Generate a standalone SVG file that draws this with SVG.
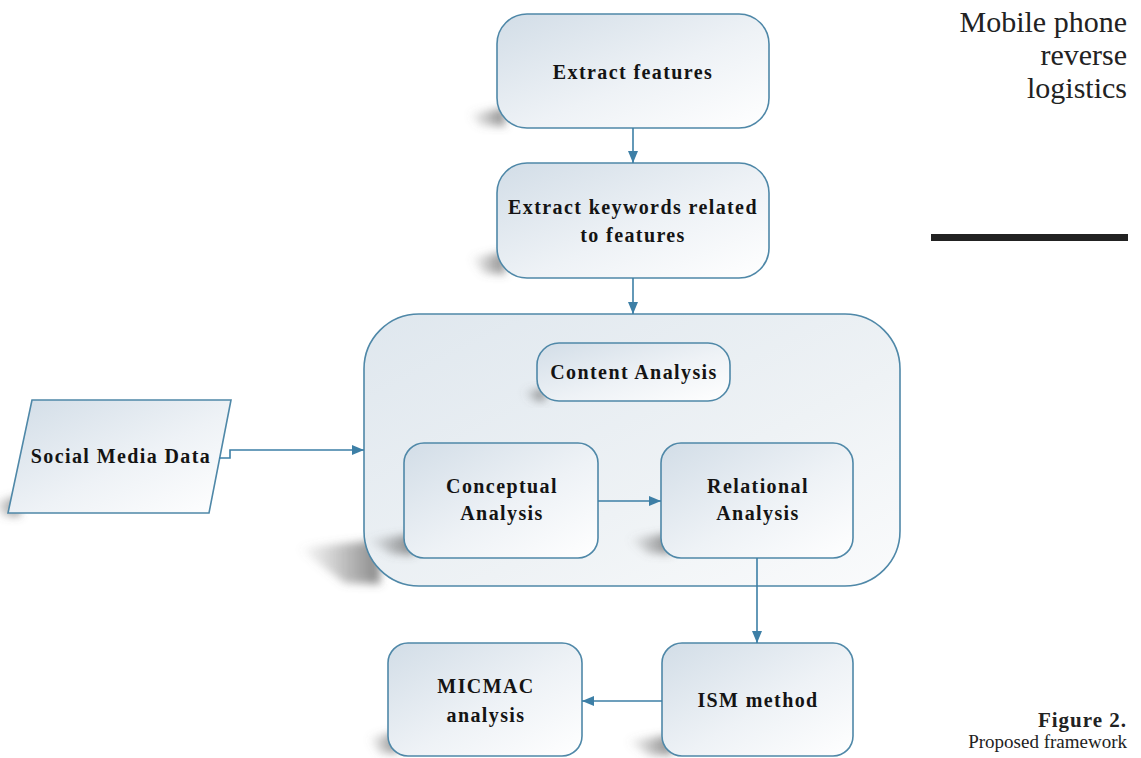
<svg xmlns="http://www.w3.org/2000/svg" width="1141" height="758" viewBox="0 0 1141 758">
<style>
.box{fill:url(#g);stroke:#4f88a8;stroke-width:1.6}
.big{fill:url(#gb);stroke:#4f88a8;stroke-width:1.6}
.lbl{font-family:"Liberation Serif","Times New Roman",serif;font-weight:bold;font-size:20px;fill:#141414;text-anchor:middle;letter-spacing:1.4px}
.side{font-family:"Liberation Serif","Times New Roman",serif;fill:#222;text-anchor:end}
.sh{fill:url(#sg);filter:url(#blur)}
.con{fill:none;stroke:#3d7fa6;stroke-width:1.6;marker-end:url(#ah)}
</style>
<defs>
<linearGradient id="g" x1="0" y1="0" x2="1" y2="1">
<stop offset="0" stop-color="#d2dde7"/>
<stop offset="0.55" stop-color="#eef2f6"/>
<stop offset="1" stop-color="#ffffff"/>
</linearGradient>
<linearGradient id="gb" x1="0" y1="0" x2="1" y2="1">
<stop offset="0" stop-color="#dfe7ee"/>
<stop offset="0.6" stop-color="#eef2f5"/>
<stop offset="1" stop-color="#fafbfc"/>
</linearGradient>
<linearGradient id="sg" x1="0" y1="0" x2="1" y2="0">
<stop offset="0" stop-color="#777" stop-opacity="0"/>
<stop offset="0.6" stop-color="#666" stop-opacity="0.45"/>
<stop offset="1" stop-color="#555" stop-opacity="0.7"/>
</linearGradient>
<filter id="blur" x="-50%" y="-50%" width="200%" height="200%">
<feGaussianBlur stdDeviation="4"/>
</filter>
<marker id="ah" markerUnits="userSpaceOnUse" markerWidth="12" markerHeight="10" refX="12" refY="5" orient="auto">
<path d="M0,0 L12,5 L0,10 z" fill="#3d7fa6"/>
</marker>
</defs>

<g id="side-text">
<text class="side" x="1127" y="32" font-size="30">Mobile phone</text>
<text class="side" x="1127" y="65" font-size="30">reverse</text>
<text class="side" x="1127" y="98" font-size="30">logistics</text>
<rect x="931" y="234" width="197" height="7" fill="#222"/>
<text class="side" x="1127" y="727" font-size="21" font-weight="bold" letter-spacing="1">Figure 2.</text>
<text class="side" x="1127" y="748" font-size="19">Proposed framework</text>
</g>

<g id="extract-features">
<path class="sh" d="M468,114 L505,108 L505,126 L480,125 z"/>
<rect class="box" x="497" y="14" width="272" height="114" rx="30"/>
<text class="lbl" x="633" y="79">Extract features</text>
</g>

<g id="extract-keywords">
<path class="sh" d="M470,258 L505,252 L505,274 L484,273 z"/>
<rect class="box" x="497" y="163" width="272" height="115" rx="30"/>
<text class="lbl" x="633" y="214">Extract keywords related</text>
<text class="lbl" x="633" y="242">to features</text>
</g>

<g id="content-analysis-group">
<path class="sh" d="M298,548 L380,540 L380,584 L345,583 z"/>
<rect class="big" x="364" y="314" width="536" height="272" rx="55"/>
</g>

<g id="content-analysis">
<path class="sh" d="M522,392 L545,388 L545,401 L535,401 z"/>
<rect class="box" x="537" y="343" width="193" height="58" rx="22"/>
<text class="lbl" x="634" y="379">Content Analysis</text>
</g>

<g id="conceptual-analysis">
<path class="sh" d="M365,540 L414,534 L414,555 L392,554 z"/>
<rect class="box" x="404" y="443" width="194" height="115" rx="20"/>
<text class="lbl" x="502" y="493">Conceptual</text>
<text class="lbl" x="502" y="520">Analysis</text>
</g>

<g id="relational-analysis">
<path class="sh" d="M628,539 L671,533 L671,554 L648,553 z"/>
<rect class="box" x="661" y="443" width="192" height="115" rx="20"/>
<text class="lbl" x="758" y="493">Relational</text>
<text class="lbl" x="758" y="520">Analysis</text>
</g>

<g id="social-media-data">
<path class="sh" d="M-8,502 L20,496 L20,516 L4,516 z"/>
<polygon class="box" points="32,400 231,400 209,513 8,513"/>
<text class="lbl" x="121" y="463">Social Media Data</text>
</g>

<g id="micmac-analysis">
<path class="sh" d="M368,738 L398,732 L398,753 L380,753 z"/>
<rect class="box" x="388" y="643" width="194" height="113" rx="20"/>
<text class="lbl" x="486" y="693">MICMAC</text>
<text class="lbl" x="486" y="722">analysis</text>
</g>

<g id="ism-method">
<path class="sh" d="M626,741 L672,735 L672,755 L650,755 z"/>
<rect class="box" x="662" y="643" width="191" height="113" rx="20"/>
<text class="lbl" x="758" y="707">ISM method</text>
</g>

<g id="connectors">
<path class="con" d="M219,458 H230 V450 H364"/>
<path class="con" d="M633,128 V163"/>
<path class="con" d="M633,278 V314"/>
<path class="con" d="M598,501 H661"/>
<path class="con" d="M757,558 V643"/>
<path class="con" d="M662,701 H582"/>
</g>
</svg>
